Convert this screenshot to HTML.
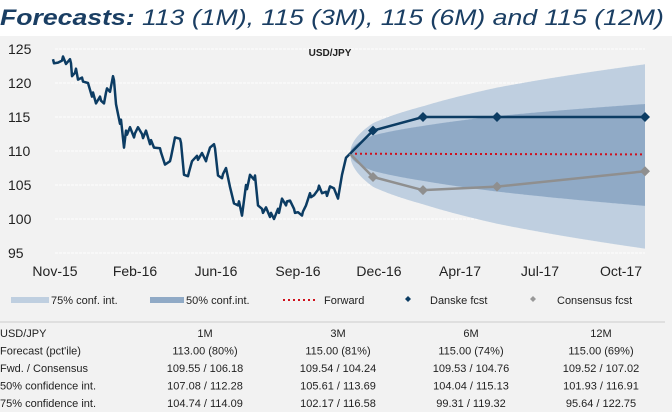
<!DOCTYPE html>
<html><head><meta charset="utf-8"><style>
body{margin:0;width:672px;height:412px;background:#fff;overflow:hidden;font-family:"Liberation Sans",sans-serif}
.t{position:absolute;left:0;top:5px;font-size:22px;font-style:italic;color:#1a3e63;white-space:nowrap;transform-origin:0 0;transform:scaleX(1.21)}
</style></head><body>
<div style="position:absolute;left:0;top:36px;width:672px;height:376px;background:#f2f2f2"></div>
<div class="t"><b>Forecasts:</b> 113 (1M), 115 (3M), 115 (6M) and 115 (12M)</div>
<svg id="s" width="672" height="412" style="position:absolute;left:0;top:0" font-family="Liberation Sans, sans-serif"></svg>
<script>
const Y=v=>49+(125-v)*6.8;
let h='';
[125,120,115,110,105,100,95].forEach(v=>{h+=`<line x1="55" x2="645" y1="${Y(v)}" y2="${Y(v)}" stroke="#fff" stroke-width="1" stroke-dasharray="3,1"/><text x="8" y="${Y(v)+5}" font-size="14" fill="#222">${v}</text>`;});
h+=`<text x="330" y="56" font-size="10" font-weight="bold" fill="#222" text-anchor="middle">USD/JPY</text>`;
const XL=[['Nov-15',55],['Feb-16',135],['Jun-16',216],['Sep-16',298],['Dec-16',379],['Apr-17',460],['Jul-17',540],['Oct-17',621]];
XL.forEach(([s,x])=>h+=`<text x="${x}" y="276" font-size="14" fill="#222" text-anchor="middle">${s}</text>`);
const K=[[350,0],[373,1],[423,3],[497,6],[645,12]];
const b75=[[109.6,109.6],[104.74,114.09],[102.17,116.58],[99.31,119.32],[95.64,122.75]];
const b50=[[109.6,109.6],[107.08,112.28],[105.61,113.69],[104.04,115.13],[101.93,116.91]];
function band(b){let up=[],lo=[];for(let x=350;x<=645;x+=1){let i=0;while(i<3&&x>K[i+1][0])i++;let t=K[i][1]+(K[i+1][1]-K[i][1])*(x-K[i][0])/(K[i+1][0]-K[i][0]);let s0=Math.sqrt(K[i][1]),s1=Math.sqrt(K[i+1][1]),f=(Math.sqrt(t)-s0)/(s1-s0);let u=b[i][1]+(b[i+1][1]-b[i][1])*f,l=b[i][0]+(b[i+1][0]-b[i][0])*f;up.push(x+','+Y(u).toFixed(1));lo.unshift(x+','+Y(l).toFixed(1));}return up.concat(lo).join(' ');}
h+=`<polygon points="${band(b75)}" fill="#bfcfe0"/><polygon points="${band(b50)}" fill="#90aac6"/>`;
h+=`<polyline points="350,${Y(109.6)} 645,${Y(109.5)}" stroke="#d0101c" stroke-width="2" stroke-dasharray="2,3" fill="none"/>`;
const hist=[[53,123.5],[58,123],[62,123.3],[66,122.8],[70,123.5],[72,121],[75,121.5],[78,120.5],[82,120.8],[88,120],[92,118],[96,117],[100,118],[104,117],[106,118.6],[110,118.7],[113,121],[116,116.9],[120,114],[124,110.5],[126,113],[130,113.5],[134,112],[138,113.5],[142,112.5],[146,113],[150,111],[154,110.5],[160,110.4],[165,108],[170,108.5],[175,112],[180,111.8],[184,106.5],[188,106.3],[192,108.5],[197,109.3],[202,109.7],[206,108.5],[210,110.5],[214,111],[218,106.4],[222,106],[226,107.5],[230,104.7],[234,102.3],[238,102],[242,100.5],[246,105],[250,106.5],[254,105.8],[258,102],[262,101.5],[266,101.7],[270,100.3],[274,100],[278,101.5],[282,103],[286,102],[290,102.7],[294,101.5],[298,101],[302,100.5],[306,102],[310,103.8],[314,103.5],[318,104.3],[322,103.8],[326,104],[330,104.8],[334,104.5],[338,103],[342,106.5],[346,109],[350,109.6]];
let hp=[];hist.forEach(([x,v],i)=>{hp.push(x+','+Y(v).toFixed(1));if(i<hist.length-5&&i%2==0)hp.push((x+1)+','+Y(v+(i%4?0.6:-0.6)).toFixed(1));});
h+=`<polyline points="${hp.join(' ')}" stroke="#0c3c63" stroke-width="2.5" fill="none" stroke-linejoin="round"/>`;
const xs=[350,373,423,497,645];
const dk=[109.6,113,115,115,115],cs=[109.6,106.18,104.24,104.76,107.02];
const dia=(x,y,c,r=5)=>`<polygon points="${x},${y-r} ${x+r},${y} ${x},${y+r} ${x-r},${y}" fill="${c}"/>`;
h+=`<polyline points="${xs.map((x,i)=>x+','+Y(cs[i])).join(' ')}" stroke="#8f8f8f" stroke-width="2.5" fill="none"/>`;
h+=`<polyline points="${xs.map((x,i)=>x+','+Y(dk[i])).join(' ')}" stroke="#0c3c63" stroke-width="2.5" fill="none"/>`;
for(let i=1;i<5;i++){h+=dia(xs[i],Y(cs[i]),'#8f8f8f');h+=dia(xs[i],Y(dk[i]),'#0c3c63');}
h+=`<rect x="11" y="297" width="38" height="6" fill="#bfcfe0"/><text x="51" y="304" font-size="11" fill="#222">75% conf. int.</text>`;
h+=`<rect x="150" y="297" width="34" height="6" fill="#90aac6"/><text x="186" y="304" font-size="11" fill="#222">50% conf.int.</text>`;
h+=`<line x1="283" x2="318" y1="300" y2="300" stroke="#d0101c" stroke-width="2" stroke-dasharray="2,3"/><text x="324" y="304" font-size="11" fill="#222">Forward</text>`;
h+=dia(408,299,'#0c3c63',3)+`<text x="430" y="304" font-size="11" fill="#222">Danske fcst</text>`;
h+=dia(533,299,'#999',3)+`<text x="557" y="304" font-size="11" fill="#222">Consensus fcst</text>`;
h+=`<line x1="0" x2="665" y1="322" y2="322" stroke="#ccc"/>`;
const rows=[['USD/JPY','1M','3M','6M','12M'],['Forecast (pct\'ile)','113.00 (80%)','115.00 (81%)','115.00 (74%)','115.00 (69%)'],['Fwd. / Consensus','109.55 / 106.18','109.54 / 104.24','109.53 / 104.76','109.52 / 107.02'],['50% confidence int.','107.08 / 112.28','105.61 / 113.69','104.04 / 115.13','101.93 / 116.91'],['75% confidence int.','104.74 / 114.09','102.17 / 116.58','99.31 / 119.32','95.64 / 122.75']];
const cx=[205,338,471,601];
rows.forEach((r,i)=>{let y=337+i*17.5;h+=`<text x="0" y="${y}" font-size="11" fill="#222">${r[0]}</text>`;for(let j=1;j<5;j++)h+=`<text x="${cx[j-1]}" y="${y}" font-size="11" fill="#222" text-anchor="middle">${r[j]}</text>`;});
document.getElementById('s').innerHTML=h;
</script>
</body></html>
